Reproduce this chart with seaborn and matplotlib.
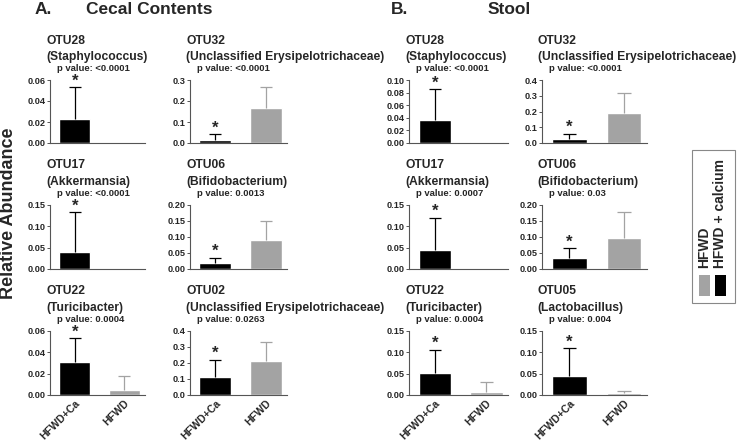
import numpy as np
import pandas as pd
import seaborn as sns
import matplotlib.pyplot as plt
from matplotlib.patches import Rectangle

# groups and colours
groups = ["HFWD+Ca", "HFWD"]
bar_colors = ["#000000", "#a3a3a3"]

# cecal contents (panel A), order: row by row, left to right
cecal_otu = ["OTU28", "OTU32", "OTU17", "OTU06", "OTU22", "OTU02"]
cecal_taxa = ["(Staphylococcus)", "(Unclassified Erysipelotrichaceae)", "(Akkermansia)",
              "(Bifidobacterium)", "(Turicibacter)", "(Unclassified Erysipelotrichaceae)"]
cecal_p = ["<0.0001", "<0.0001", "<0.0001", "0.0013", "0.0004", "0.0263"]
cecal_ca_mean = [0.023, 0.015, 0.040, 0.018, 0.031, 0.115]
cecal_ca_err = [0.030, 0.027, 0.093, 0.017, 0.022, 0.105]
cecal_hfwd_mean = [0.0004, 0.165, 0.001, 0.090, 0.005, 0.210]
cecal_hfwd_err = [0.0, 0.100, 0.0, 0.060, 0.013, 0.120]
cecal_ymax = [0.06, 0.3, 0.15, 0.20, 0.06, 0.4]
cecal_ystep = [0.02, 0.1, 0.05, 0.05, 0.02, 0.1]

# stool (panel B)
stool_otu = ["OTU28", "OTU32", "OTU17", "OTU06", "OTU22", "OTU05"]
stool_taxa = ["(Staphylococcus)", "(Unclassified Erysipelotrichaceae)", "(Akkermansia)",
              "(Bifidobacterium)", "(Turicibacter)", "(Lactobacillus)"]
stool_p = ["<0.0001", "<0.0001", "0.0007", "0.03", "0.0004", "0.004"]
stool_ca_mean = [0.037, 0.025, 0.045, 0.033, 0.052, 0.045]
stool_ca_err = [0.048, 0.033, 0.075, 0.033, 0.054, 0.065]
stool_hfwd_mean = [0.001, 0.190, 0.001, 0.097, 0.008, 0.004]
stool_hfwd_err = [0.0, 0.125, 0.0, 0.081, 0.022, 0.006]
stool_ymax = [0.10, 0.4, 0.15, 0.20, 0.15, 0.15]
stool_ystep = [0.02, 0.1, 0.05, 0.05, 0.05, 0.05]

W, H = 740, 445
col_x = [(50, 145), (190, 287), (409, 508), (542, 647)]
row_y = [(80, 143), (205, 269), (331, 395)]

sns.set_style("ticks")
plt.rcParams['font.family'] = ['Liberation Sans', 'DejaVu Sans']
plt.rcParams['font.weight'] = 'bold'

fig = plt.figure(figsize=(7.4, 4.45), dpi=100)


def px_axes(x0, x1, y0, y1):
    return fig.add_axes([x0 / W, 1 - y1 / H, (x1 - x0) / W, (y1 - y0) / H])


def draw_panel(ax, otu, taxa, p, m_ca, e_ca, m_hf, e_hf, ymax, ystep, bottom):
    df = pd.DataFrame({"group": groups, "value": [m_ca, m_hf]})
    sns.barplot(data=df, x="group", y="value", hue="group", palette=bar_colors,
                order=groups, hue_order=groups, width=0.63, errorbar=None,
                legend=False, ax=ax)
    # one-sided (upper) error bars
    for i, (m, e) in enumerate([(m_ca, e_ca), (m_hf, e_hf)]):
        if e > 0:
            ax.vlines(i, m, m + e, color=bar_colors[i], linewidth=0.9)
            ax.hlines(m + e, i - 0.12, i + 0.12, color=bar_colors[i], linewidth=0.9)
    ax.annotate("*", (0, m_ca + e_ca), xytext=(0, -1), textcoords='offset points',
                ha='center', va='bottom', fontsize=12, fontweight='bold')
    ax.set_xlim(-0.5, 1.42)
    ax.set_ylim(0, ymax)
    ticks = np.arange(0, ymax + ystep / 2, ystep)
    ax.set_yticks(ticks)
    dec = 1 if ystep >= 0.1 else 2
    ax.set_yticklabels([f"{t:.{dec}f}" for t in ticks], fontsize=6.6, fontweight='bold')
    ax.set_xlabel("")
    ax.set_ylabel("")
    if bottom:
        ax.set_xticks([0, 1])
        ax.set_xticklabels(groups, rotation=45, ha='right', rotation_mode='anchor',
                           fontsize=7.6, fontweight='bold')
    else:
        ax.set_xticks([])
    ax.tick_params(axis='x', length=0, pad=2)
    ax.tick_params(axis='y', length=2.5, width=0.7, pad=1, color='#555555')
    sns.despine(ax=ax)
    for s in ["left", "bottom"]:
        ax.spines[s].set_color('#555555')
        ax.spines[s].set_linewidth(0.8)
    ax.patch.set_alpha(0)
    ax.text(-0.04, 1 + 36 / 63, otu, transform=ax.transAxes, ha='left', va='baseline',
            fontsize=8.7, fontweight='bold')
    ax.text(-0.04, 1 + 20 / 63, taxa, transform=ax.transAxes, ha='left', va='baseline',
            fontsize=8.7, fontweight='bold')
    ax.text(0.07, 1 + 9 / 63, "p value: " + p, transform=ax.transAxes, ha='left',
            va='baseline', fontsize=6.8, fontweight='bold')


sets = [
    (0, cecal_otu, cecal_taxa, cecal_p, cecal_ca_mean, cecal_ca_err,
     cecal_hfwd_mean, cecal_hfwd_err, cecal_ymax, cecal_ystep),
    (2, stool_otu, stool_taxa, stool_p, stool_ca_mean, stool_ca_err,
     stool_hfwd_mean, stool_hfwd_err, stool_ymax, stool_ystep),
]
for c0, otu, taxa, p, mca, eca, mhf, ehf, ymx, yst in sets:
    for k in range(6):
        r, c = divmod(k, 2)
        x0, x1 = col_x[c0 + c]
        y0, y1 = row_y[r]
        ax = px_axes(x0, x1, y0, y1)
        draw_panel(ax, otu[k], taxa[k], p[k], mca[k], eca[k], mhf[k], ehf[k],
                   ymx[k], yst[k], bottom=(r == 2))

# headers
fig.text(35 / W, 1 - 14 / H, "A.", fontsize=12.5, fontweight='bold', va='baseline')
fig.text(149 / W, 1 - 14 / H, "Cecal Contents", fontsize=12.5, fontweight='bold',
         va='baseline', ha='center')
fig.text(391 / W, 1 - 14 / H, "B.", fontsize=12.5, fontweight='bold', va='baseline')
fig.text(509 / W, 1 - 14 / H, "Stool", fontsize=12.5, fontweight='bold',
         va='baseline', ha='center')
fig.text(9 / W, 1 - 213 / H, "Relative Abundance", fontsize=13, fontweight='bold',
         rotation=90, ha='center', va='center')

# legend box
fig.patches.append(Rectangle((692 / W, 1 - 303 / H), 43 / W, 153 / H, transform=fig.transFigure,
                             facecolor='white', edgecolor='#888888', linewidth=0.8))
legend_labels = ["HFWD", "HFWD + calcium"]
legend_x = [704.5, 720]
for lab, lx, col in zip(legend_labels, legend_x, [bar_colors[1], bar_colors[0]]):
    fig.patches.append(Rectangle(((lx - 5.5) / W, 1 - 296 / H), 11 / W, 21 / H,
                                 transform=fig.transFigure, facecolor=col, edgecolor='none'))
    fig.text(lx / W, 1 - 268 / H, lab, rotation=90, ha='center', va='bottom',
             fontsize=10, fontweight='bold')

fig.savefig("out.png", dpi=100)
